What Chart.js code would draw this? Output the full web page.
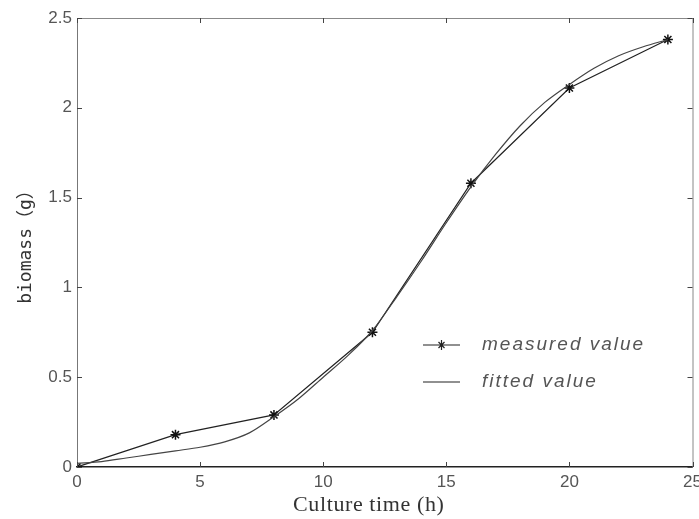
<!DOCTYPE html>
<html>
<head>
<meta charset="utf-8">
<script src="https://cdn.jsdelivr.net/npm/chart.js"></script>
<style>
  html, body { margin: 0; padding: 0; background: #fff; }
  #wrap { width: 699px; height: 519px; position: relative; }
</style>
</head>
<body>
<div id="wrap"><canvas id="chart"></canvas></div>
<script>
// measured points (hours, grams)
const hours = [0, 4, 8, 12, 16, 20, 24];
const measured = [0, 0.18, 0.29, 0.75, 1.58, 2.11, 2.38];

// fitted curve, one value per hour
const fitHours = [0, 1, 2, 3, 4, 5, 6, 7, 8, 9, 10, 11, 12, 13, 14, 15, 16, 17, 18, 19, 20, 21, 22, 23, 24];
const fitted = [0.02, 0.03, 0.05, 0.07, 0.09, 0.11, 0.14, 0.19, 0.28, 0.38, 0.50, 0.62, 0.76, 0.95, 1.15, 1.36, 1.56, 1.74, 1.90, 2.03, 2.13, 2.22, 2.29, 2.34, 2.38];

const xTicks = [0, 5, 10, 15, 20, 25];
const yTicks = [0, 0.5, 1, 1.5, 2, 2.5];

const toXY = (xs, ys) => xs.map((x, i) => ({ x: x, y: ys[i] }));

// matlab style box with inward ticks on every side
const boxTicks = {
  id: 'boxTicks',
  afterDraw(chart) {
    const { ctx, chartArea: a, scales } = chart;
    const len = 5;
    ctx.save();
    ctx.lineWidth = 1;
    ctx.strokeStyle = '#888';
    ctx.beginPath();
    ctx.moveTo(a.left, a.top + 0.5);
    ctx.lineTo(a.right + 0.5, a.top + 0.5);
    ctx.lineTo(a.right + 0.5, a.bottom);
    ctx.stroke();

    ctx.strokeStyle = '#444';
    ctx.beginPath();
    xTicks.forEach(v => {
      const px = Math.round(scales.x.getPixelForValue(v)) + 0.5;
      ctx.moveTo(px, a.bottom); ctx.lineTo(px, a.bottom - len);
      ctx.moveTo(px, a.top); ctx.lineTo(px, a.top + len);
    });
    yTicks.forEach(v => {
      const py = Math.round(scales.y.getPixelForValue(v)) + 0.5;
      ctx.moveTo(a.left, py); ctx.lineTo(a.left + len, py);
      ctx.moveTo(a.right, py); ctx.lineTo(a.right - len, py);
    });
    ctx.stroke();
    ctx.restore();
  }
};

// x title sits a little left of centre and is set wide, as in the original
const xTitle = {
  id: 'xTitle',
  afterDraw(chart) {
    const { ctx, chartArea: a } = chart;
    ctx.save();
    ctx.fillStyle = '#333';
    ctx.font = '22px "Liberation Serif", "Times New Roman", serif';
    ctx.letterSpacing = '0.6px';
    ctx.textAlign = 'center';
    ctx.textBaseline = 'alphabetic';
    ctx.fillText('Culture time (h)', (a.left + a.right) / 2 - 16, a.bottom + 44);
    ctx.restore();
  }
};

// legend sits inside the axes, like the original figure
const insideLegend = {
  id: 'insideLegend',
  afterDraw(chart) {
    const { ctx, chartArea: a } = chart;
    const x0 = a.left + 346, x1 = a.left + 383, tx = a.left + 405;
    const y0 = a.top + 327, y1 = a.top + 364;
    ctx.save();
    ctx.strokeStyle = '#222';
    ctx.lineWidth = 1.2;
    ctx.beginPath();
    ctx.moveTo(x0, y0); ctx.lineTo(x1, y0);
    ctx.moveTo(x0, y1); ctx.lineTo(x1, y1);
    // small star on the measured line
    const cx = (x0 + x1) / 2;
    ctx.moveTo(cx, y0 - 5); ctx.lineTo(cx, y0 + 5);
    ctx.moveTo(cx - 3, y0 - 3); ctx.lineTo(cx + 3, y0 + 3);
    ctx.moveTo(cx - 3, y0 + 3); ctx.lineTo(cx + 3, y0 - 3);
    ctx.stroke();
    ctx.fillStyle = '#555';
    ctx.font = 'italic 19px "Liberation Sans", Arial, sans-serif';
    ctx.letterSpacing = '2px';
    ctx.textBaseline = 'middle';
    ctx.fillText('measured value', tx, y0);
    ctx.fillText('fitted value', tx, y1);
    ctx.restore();
  }
};

const chart = document.getElementById('chart');

new Chart(chart, {
  type: 'scatter',
  data: {
    datasets: [
      {
        label: 'fitted value',
        data: toXY(fitHours, fitted),
        showLine: true,
        borderColor: '#444',
        borderWidth: 1.2,
        pointRadius: 0,
        tension: 0.3
      },
      {
        label: 'measured value',
        data: toXY(hours, measured),
        showLine: true,
        borderColor: '#222',
        borderWidth: 1.2,
        pointStyle: 'star',
        pointRadius: 5,
        pointBorderWidth: 1.5,
        pointBorderColor: '#111',
        pointBackgroundColor: '#111'
      }
    ]
  },
  options: {
    responsive: true,
    maintainAspectRatio: false,
    animation: false,
    layout: { padding: { top: 18, right: 3, left: 0, bottom: 0 } },
    plugins: {
      legend: { display: false },
      tooltip: { enabled: false }
    },
    scales: {
      x: {
        type: 'linear',
        min: 0,
        max: 25,
        afterBuildTicks: s => { s.ticks = xTicks.map(v => ({ value: v })); },
        afterFit: s => { s.height = 52; s.paddingLeft = 0; s.paddingRight = 0; },
        grid: { display: false, drawTicks: false },
        border: { color: '#222', width: 1.5 },
        ticks: {
          color: '#555',
          padding: 5,
          maxRotation: 0,
          font: { family: '"Liberation Sans", Arial, sans-serif', size: 17 },
          callback: v => String(v)
        }
      },
      y: {
        min: 0,
        max: 2.5,
        afterBuildTicks: s => { s.ticks = yTicks.map(v => ({ value: v })); },
        afterFit: s => { s.width = 77; s.paddingTop = 0; s.paddingBottom = 0; },
        grid: { display: false, drawTicks: false },
        border: { color: '#777', width: 1 },
        ticks: {
          color: '#555',
          padding: 5,
          font: { family: '"Liberation Sans", Arial, sans-serif', size: 17 },
          callback: v => String(v)
        },
        title: {
          display: true,
          text: 'biomass（g）',
          color: '#333',
          padding: { top: 16, bottom: 0 },
          font: { family: '"DejaVu Sans Mono", "Noto Sans CJK SC", monospace', size: 18 }
        }
      }
    }
  },
  plugins: [boxTicks, xTitle, insideLegend]
});
</script>
</body>
</html>
